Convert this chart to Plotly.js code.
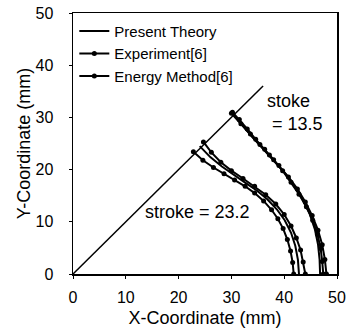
<!DOCTYPE html>
<html><head><meta charset="utf-8">
<script src="https://cdn.plot.ly/plotly-3.0.1.min.js"></script>
<style>html,body{margin:0;padding:0;background:#fff}#c{width:348px;height:333px}</style>
</head><body><div id="c"></div>
<script>
// Diagonal line (present theory limit)
var diagX = [0, 36];
var diagY = [0, 36];
// Stroke = 13.5
var theory135X = [30.1,32,34,36,38,40,41.8,43.4,44.8,45.8,46.4,46.7,46.8];
var theory135Y = [30.9,28.5,26.2,24,21.8,19.5,17,14.4,11.6,8.6,5.7,2.8,0];
var exp135X = [30.2,31.5,33,34.6,36.3,38,39.7,41.3,42.8,44.2,45.4,46.3,46.9,47.2,47.4];
var exp135Y = [31,29.6,27.8,25.8,23.9,21.9,19.8,17.6,15.3,12.9,10.3,7.6,4.9,2.4,0];
var en135X = [30,31.8,33.6,35.4,37.2,39,40.8,42.5,44,45.3,46.4,47.2,47.7,48];
var en135Y = [30.8,28.8,26.8,24.8,22.8,20.8,18.6,16.3,13.8,11.2,8.4,5.6,2.8,0];
// Stroke = 23.2
var theory232X = [24,26,28.2,30.4,32.6,34.8,36.8,38.6,40.1,41.3,42.1,42.6,42.8];
var theory232Y = [24.5,22.4,20.6,19,17.5,16,14.3,12.4,10.3,7.9,5.4,2.7,0];
var exp232X = [22.8,24.6,26.6,28.6,30.6,32.6,34.4,36.1,37.6,38.8,39.8,40.6,41.2,41.6,41.8];
var exp232Y = [23.4,21.8,20.4,19.2,18,16.8,15.5,14,12.3,10.6,8.7,6.6,4.4,2.2,0];
var en232X = [24.7,26.2,28,30,32.2,34.4,36.5,38.4,40,41.3,42.3,43.1,43.6,44];
var en232Y = [25.3,23.3,21.4,19.8,18.3,16.8,15.2,13.4,11.4,9.2,6.9,4.6,2.3,0];
var ticks = [0,10,20,30,40,50];

function join(a,b){return a.concat([null],b);}
var blk = '#000';
var traces = [
  {x: join(theory135X, theory232X), y: join(theory135Y, theory232Y), mode:'lines', name:'Present Theory',
   line:{color:blk, width:2}},
  {x: join(exp135X, exp232X), y: join(exp135Y, exp232Y), mode:'lines+markers', name:'Experiment[6]',
   line:{color:blk, width:2}, marker:{color:blk, size:5, symbol:'circle'}},
  {x: join(en135X, en232X), y: join(en135Y, en232Y), mode:'lines+markers', name:'Energy Method[6]',
   line:{color:blk, width:2}, marker:{color:blk, size:5, symbol:'circle'}},
  {x: diagX, y: diagY, mode:'lines', showlegend:false, line:{color:blk, width:1.5}}
];
var font = {family:'Liberation Sans, Arial, sans-serif', color:blk};
var layout = {
  width:348, height:333,
  margin:{l:73, r:11, t:13, b:59},
  paper_bgcolor:'#fff', plot_bgcolor:'#fff',
  font: Object.assign({size:16}, font),
  showlegend:true,
  legend:{x:0.005, y:0.993, xanchor:'left', yanchor:'top', bgcolor:'rgba(0,0,0,0)',
          font:Object.assign({size:15}, font), tracegroupgap:0},
  xaxis:{range:[0,50], tickvals:ticks, showgrid:false, zeroline:false, showline:true, mirror:true,
         linecolor:blk, linewidth:1.5, ticks:'outside', ticklen:3, tickcolor:blk,
         ticklabelstandoff:5,
         tickfont:Object.assign({size:16}, font),
         title:{text:'X-Coordinate (mm)', font:Object.assign({size:18}, font), standoff:6}},
  yaxis:{range:[0,50], tickvals:ticks, showgrid:false, zeroline:false, showline:true, mirror:true,
         linecolor:blk, linewidth:1.5, ticks:'outside', ticklen:3, tickcolor:blk,
         ticklabelstandoff:12,
         tickfont:Object.assign({size:16}, font),
         title:{text:'Y-Coordinate (mm)', font:Object.assign({size:18}, font), standoff:0}},
  annotations:[
    {x:36.4, y:33.1, xref:'x', yref:'y', text:'stoke', showarrow:false, xanchor:'left',
     font:Object.assign({size:18}, font)},
    {x:37.4, y:28.7, xref:'x', yref:'y', text:'= 13.5', showarrow:false, xanchor:'left',
     font:Object.assign({size:18}, font)},
    {x:23.5, y:11.9, xref:'x', yref:'y', text:'stroke = 23.2', showarrow:false,
     font:Object.assign({size:18}, font)}
  ]
};
Plotly.newPlot('c', traces, layout, {displayModeBar:false, staticPlot:true});
</script></body></html>
